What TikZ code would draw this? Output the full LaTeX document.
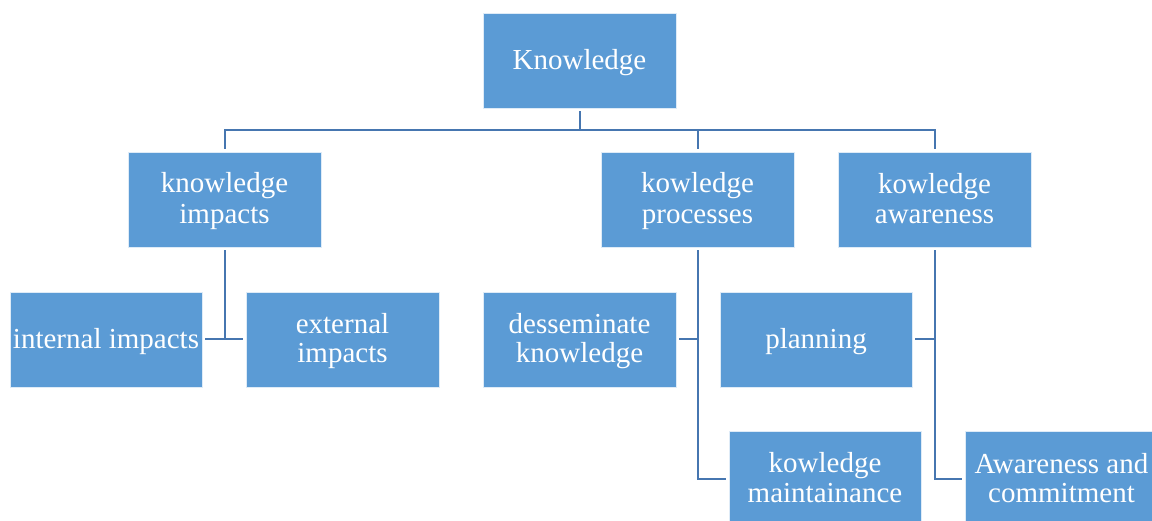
\documentclass[tikz,border=0pt]{standalone}
\usepackage{fontspec}
\setmainfont{Liberation Serif}
\definecolor{boxblue}{HTML}{5B9BD5}
\definecolor{lineblue}{HTML}{4676B0}
\newcommand{\st}{\rule[-5.5pt]{0pt}{29pt}}
\tikzset{
  box/.style={rectangle, fill=boxblue, draw=white!80!boxblue, line width=0.6pt,
    minimum width=193pt, minimum height=95pt, inner sep=0pt, align=center,
    text=white, font=\fontsize{29}{29}\selectfont},
  conn/.style={draw=lineblue, line width=2pt, shorten <=3pt, shorten >=3pt},
}
\begin{document}
\begin{tikzpicture}[x=1pt,y=-1pt]
\useasboundingbox (0,0) rectangle (1152,521);
\clip (0,0) rectangle (1152,521);
\node[box] (K)  at (579.5,60.5) {\st Knowledge};
\node[box] (KI) at (224.5,199.5) {\st knowledge\\\st impacts};
\node[box] (KP) at (697.5,199.5) {\st kowledge\\\st processes};
\node[box] (KA) at (934.5,199.5) {\st kowledge\\\st awareness};
\node[box, minimum width=192pt] (II) at (106,339.5) {\st internal impacts};
\node[box] (EI) at (342.5,339.5) {\st external\\\st impacts};
\node[box] (DK) at (579.5,339.5) {\st desseminate\\\st knowledge};
\node[box, minimum width=192pt] (PL) at (816,339.5) {\st planning};
\node[box, minimum width=192pt] (KM) at (825,478.5) {\st kowledge\\\st maintainance};
\node[box] (AC) at (1061.5,478.5) {\st Awareness and\\\st commitment};
\coordinate (hub) at (579.5,130);
\draw[conn, shorten >=0pt] (K.south) -- (hub);
\draw[conn] (KI.north) |- (hub) -| (KA.north);
\draw[conn, shorten <=0pt] (hub) -| (KP.north);
\draw[conn, shorten >=0pt] (KI.south) -- (KI.south |- II.east);
\draw[conn] (II.east) -- (EI.west);
\draw[conn] (KP.south) |- (KM.west);
\draw[conn, shorten >=0pt] (DK.east) -- (DK.east -| KP.south);
\draw[conn] (KA.south) |- (AC.west);
\draw[conn, shorten >=0pt] (PL.east) -- (PL.east -| KA.south);
\end{tikzpicture}
\end{document}
